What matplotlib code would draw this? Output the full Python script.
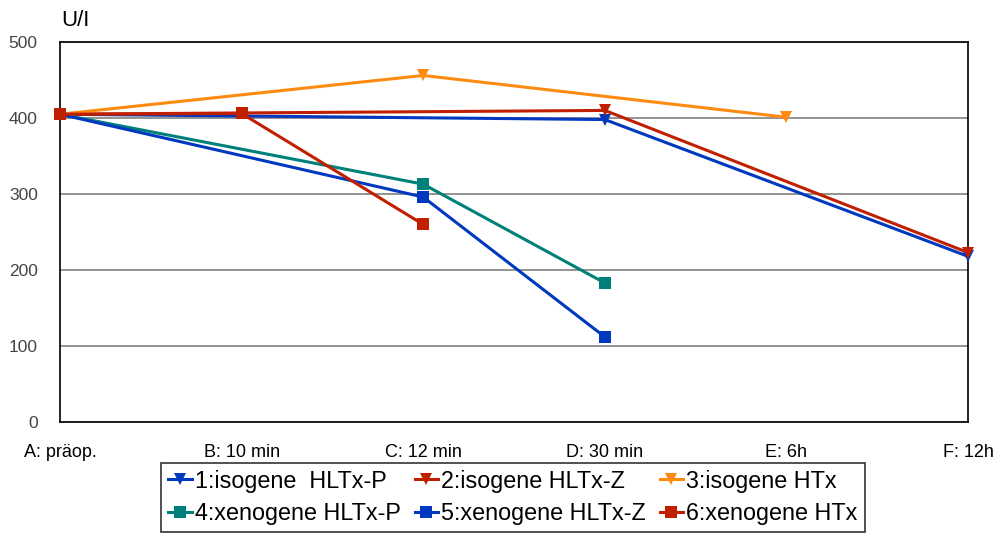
import matplotlib.pyplot as plt
from matplotlib.lines import Line2D

plt.rcParams['font.family'] = ['Liberation Sans', 'DejaVu Sans']

categories = ['A: präop.', 'B: 10 min', 'C: 12 min', 'D: 30 min', 'E: 6h', 'F: 12h']

# None = no measurement at that time
iso_hltx_p = [405, None, None, 398, None, 218]
iso_hltx_z = [405, None, None, 410, None, 223]
iso_htx = [405, None, 456, None, 401, None]
xeno_hltx_p = [405, None, 313, 183, None, None]
xeno_hltx_z = [405, None, 296, 112, None, None]
xeno_htx = [405, 406, 260, None, None, None]

labels = ['1:isogene  HLTx-P', '2:isogene HLTx-Z', '3:isogene HTx',
          '4:xenogene HLTx-P', '5:xenogene HLTx-Z', '6:xenogene HTx']
series = [iso_hltx_p, iso_hltx_z, iso_htx, xeno_hltx_p, xeno_hltx_z, xeno_htx]
colors = ['#0038C0', '#C02000', '#FF8A10', '#00807A', '#0038C0', '#C02000']
markers = ['v', 'v', 'v', 's', 's', 's']
msizes = [8, 8, 8, 8.5, 8.5, 8.5]

fig = plt.figure(figsize=(10, 5.34), dpi=100)
ax = fig.add_axes([0.06, 0.2097, 0.908, 0.7116])

handles = []
for vals, lab, c, m, ms in zip(series, labels, colors, markers, msizes):
    xs = [i for i, v in enumerate(vals) if v is not None]
    ys = [v for v in vals if v is not None]
    ax.plot(xs, ys, color=c, lw=2.2, marker=m, markersize=ms,
            markeredgewidth=0, zorder=3, clip_on=False)
    handles.append(Line2D([], [], color=c, lw=2.2, marker=m, markersize=ms,
                          markeredgewidth=0))

ax.set_xlim(0, 5)
ax.set_ylim(0, 500)
ax.set_yticks(range(0, 501, 100))
ax.set_xticks(range(len(categories)))
ax.set_xticklabels(categories, fontsize=13)
ax.tick_params(axis='both', length=0, labelsize=12.5, labelcolor='#444444')
ax.tick_params(axis='x', pad=16, labelcolor='black', labelsize=13)
ax.tick_params(axis='y', pad=16)
ax.grid(axis='y', color='#808080', lw=1.2)
ax.set_axisbelow(True)
for s in ax.spines.values():
    s.set_color('black')
    s.set_linewidth(1.2)

fig.text(0.061, 0.961, 'U/I', fontsize=16, va='center', ha='left')

order = [0, 3, 1, 4, 2, 5]
leg = fig.legend([handles[i] for i in order], [labels[i] for i in order],
                 loc='center', bbox_to_anchor=(0.513, 0.0685), ncol=3,
                 fontsize=16.8, frameon=True, fancybox=False, edgecolor='black',
                 handlelength=1.0, handletextpad=0.13, columnspacing=0.6,
                 labelspacing=0.42, borderpad=0.3, borderaxespad=0)
leg.get_frame().set_linewidth(1.2)

plt.savefig('out.png', dpi=100)
